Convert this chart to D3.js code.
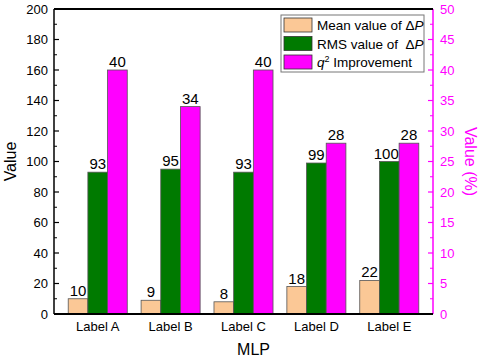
<!DOCTYPE html>
<html>
<head>
<meta charset="utf-8">
<script src="https://cdn.jsdelivr.net/npm/d3@7"></script>
<style>
  body { margin: 0; background: #fff; }
  text { font-family: "Liberation Sans", Arial, sans-serif; }
</style>
</head>
<body>
<div id="chart"></div>
<script>
  // chart size
  const width = 479;
  const height = 360;
  const margin = { top: 9, right: 46, bottom: 46, left: 54 };

  // data
  const categories = ["Label A", "Label B", "Label C", "Label D", "Label E"];
  const meanValues = [10, 9, 8, 18, 22];        // left axis
  const rmsValues = [93, 95, 93, 99, 100];      // left axis
  const q2Improvement = [40, 34, 40, 28, 28];   // right axis (%)
  const leftTicks = [0, 20, 40, 60, 80, 100, 120, 140, 160, 180, 200];
  const rightTicks = [0, 5, 10, 15, 20, 25, 30, 35, 40, 45, 50];

  const colors = ["#FBC896", "#007A00", "#FF00FF"];
  const magenta = "#FF00FF";

  const innerW = width - margin.left - margin.right;
  const innerH = height - margin.top - margin.bottom;

  const svg = d3.select("#chart")
    .append("svg")
    .attr("width", width)
    .attr("height", height)
    .append("g")
    .attr("transform", `translate(${margin.left},${margin.top})`);

  // x: category index, a bit of room at both ends
  const xScale = d3.scaleLinear()
    .domain([0.4, categories.length + 0.6])
    .range([0, innerW]);
  const step = xScale(2) - xScale(1);
  const barW = step * 0.27;

  const yLeft = d3.scaleLinear().domain([0, 200]).range([innerH, 0]);
  const yRight = d3.scaleLinear().domain([0, 50]).range([innerH, 0]);

  const series = [
    { values: meanValues, scale: yLeft },
    { values: rmsValues, scale: yLeft },
    { values: q2Improvement, scale: yRight }
  ];

  // bars + value labels
  series.forEach((s, si) => {
    const data = s.values.map((v, i) => ({ v, i }));
    const offset = (si - 1.5) * barW;

    svg.selectAll(".bar" + si)
      .data(data)
      .enter()
      .append("rect")
      .attr("x", d => xScale(d.i + 1) + offset)
      .attr("y", d => s.scale(d.v))
      .attr("width", barW)
      .attr("height", d => innerH - s.scale(d.v))
      .attr("fill", colors[si])
      .attr("stroke", "#555")
      .attr("stroke-width", 0.8);

    svg.selectAll(".lab" + si)
      .data(data)
      .enter()
      .append("text")
      .attr("x", d => xScale(d.i + 1) + offset + barW / 2 - (d.v >= 100 ? 3 : 0))
      .attr("y", d => s.scale(d.v) - 3)
      .attr("text-anchor", "middle")
      .style("font-size", "15px")
      .attr("fill", "#000")
      .text(d => d.v);
  });

  // left axis: major ticks inward, minor in between
  const leftAxis = svg.append("g");
  leftAxis.append("line")
    .attr("x1", 0).attr("x2", 0).attr("y1", 0).attr("y2", innerH)
    .attr("stroke", "#000").attr("stroke-width", 1.5);
  leftAxis.selectAll(".minor")
    .data(leftTicks.slice(1).map(t => t - 10))
    .enter().append("line")
    .attr("x1", 0).attr("x2", 3)
    .attr("y1", d => yLeft(d)).attr("y2", d => yLeft(d))
    .attr("stroke", "#000").attr("stroke-width", 1);
  leftAxis.selectAll(".major")
    .data(leftTicks)
    .enter().append("line")
    .attr("x1", 0).attr("x2", 5)
    .attr("y1", d => yLeft(d)).attr("y2", d => yLeft(d))
    .attr("stroke", "#000").attr("stroke-width", 1.2);
  leftAxis.selectAll(".tl")
    .data(leftTicks)
    .enter().append("text")
    .attr("x", -6)
    .attr("y", d => yLeft(d))
    .attr("dy", "0.36em")
    .attr("text-anchor", "end")
    .style("font-size", "13px")
    .text(d => d);

  // right axis in magenta
  const rightAxis = svg.append("g").attr("transform", `translate(${innerW},0)`);
  rightAxis.append("line")
    .attr("x1", 0).attr("x2", 0).attr("y1", 0).attr("y2", innerH)
    .attr("stroke", magenta).attr("stroke-width", 1.5);
  rightAxis.selectAll(".minor")
    .data(rightTicks.slice(1).map(t => t - 2.5))
    .enter().append("line")
    .attr("x1", 0).attr("x2", -3)
    .attr("y1", d => yRight(d)).attr("y2", d => yRight(d))
    .attr("stroke", magenta).attr("stroke-width", 1);
  rightAxis.selectAll(".major")
    .data(rightTicks)
    .enter().append("line")
    .attr("x1", 0).attr("x2", -5)
    .attr("y1", d => yRight(d)).attr("y2", d => yRight(d))
    .attr("stroke", magenta).attr("stroke-width", 1.2);
  rightAxis.selectAll(".tl")
    .data(rightTicks)
    .enter().append("text")
    .attr("x", 7)
    .attr("y", d => yRight(d))
    .attr("dy", "0.36em")
    .attr("fill", magenta)
    .style("font-size", "13px")
    .text(d => d);

  // top and bottom frame lines
  svg.append("line")
    .attr("x1", 0).attr("x2", innerW).attr("y1", 0).attr("y2", 0)
    .attr("stroke", "#000").attr("stroke-width", 1.8);
  svg.append("line")
    .attr("x1", 0).attr("x2", innerW).attr("y1", innerH).attr("y2", innerH)
    .attr("stroke", "#000").attr("stroke-width", 1.8);

  // category labels
  svg.selectAll(".cat")
    .data(categories)
    .enter().append("text")
    .attr("x", (d, i) => xScale(i + 1))
    .attr("y", innerH + 17)
    .attr("text-anchor", "middle")
    .style("font-size", "13px")
    .text(d => d);

  // axis titles
  svg.append("text")
    .attr("x", innerW / 2 + 10)
    .attr("y", innerH + 41)
    .attr("text-anchor", "middle")
    .style("font-size", "16px")
    .text("MLP");

  svg.append("text")
    .attr("transform", `translate(${-38},${innerH / 2}) rotate(-90)`)
    .attr("text-anchor", "middle")
    .style("font-size", "16px")
    .text("Value");

  svg.append("text")
    .attr("transform", `translate(${innerW + 32},${innerH / 2}) rotate(90)`)
    .attr("text-anchor", "middle")
    .attr("fill", magenta)
    .style("font-size", "16px")
    .text("Value (%)");

  // legend
  const legend = svg.append("g").attr("transform", `translate(${281 - margin.left},${15 - margin.top})`);
  legend.append("rect")
    .attr("width", 143).attr("height", 57)
    .attr("fill", "#fff")
    .attr("stroke", "#777").attr("stroke-width", 1);

  const legendRows = legend.selectAll(".row")
    .data([0, 1, 2])
    .enter().append("g")
    .attr("transform", d => `translate(3,${3 + d * 18.5})`);
  legendRows.append("rect")
    .attr("width", 28).attr("height", 14)
    .attr("fill", d => colors[d])
    .attr("stroke", "#333").attr("stroke-width", 0.8);

  const lt = legendRows.append("text")
    .attr("x", 33).attr("y", 12)
    .style("font-size", "13.5px");
  lt.filter(d => d === 0).each(function() {
    const t = d3.select(this);
    t.append("tspan").text("Mean value of \u0394");
    t.append("tspan").style("font-style", "italic").text("P");
  });
  lt.filter(d => d === 1).each(function() {
    const t = d3.select(this);
    t.append("tspan").attr("xml:space", "preserve").text("RMS value of \u00a0\u0394");
    t.append("tspan").style("font-style", "italic").text("P");
  });
  lt.filter(d => d === 2).each(function() {
    const t = d3.select(this);
    t.append("tspan").style("font-style", "italic").text("q");
    t.append("tspan").attr("dy", -5).style("font-size", "9px").text("2");
    t.append("tspan").attr("dy", 5).text(" Improvement");
  });
</script>
</body>
</html>
